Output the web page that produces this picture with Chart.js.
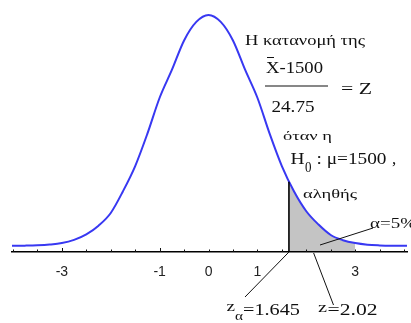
<!DOCTYPE html>
<html><head><meta charset="utf-8">
<style>html,body{margin:0;padding:0;background:#fff;overflow:hidden}canvas{display:block}</style>
<script src="https://cdn.jsdelivr.net/npm/chart.js"></script>
</head><body>
<canvas id="c" width="411" height="323"></canvas>
<script>
// z values along the density curve and the curve heights
const curveX = [-4.02, -3.75, -3.5, -3.25, -3.0, -2.75, -2.5, -2.25, -2.0, -1.75, -1.5, -1.25, -1.0, -0.75, -0.5, -0.25, 0,
                0.25, 0.5, 0.75, 1.0, 1.25, 1.5, 1.75, 2.0, 2.25, 2.5, 2.75, 3.0, 3.25, 3.5, 3.75, 4.06];
const curveY = [0.0003, 0.0006, 0.0012, 0.0025, 0.005, 0.0105, 0.020, 0.035, 0.057, 0.0945, 0.138, 0.194, 0.256, 0.304, 0.355, 0.387, 0.399,
                0.387, 0.355, 0.304, 0.256, 0.194, 0.138, 0.094, 0.060, 0.037, 0.019, 0.010, 0.005, 0.0022, 0.0010, 0.0004, 0.0002];
// shaded rejection region (alpha = 5%)
const shadeX = [1.645, 1.75, 2.0, 2.25, 2.5, 2.75, 3.0];
const shadeY = [0.111, 0.094, 0.060, 0.037, 0.019, 0.010, 0.005];
// axis ticks
const tickValues = [-4, -3.5, -3, -2.5, -2, -1.5, -1, -0.5, 0, 0.5, 1, 1.5, 2, 2.5, 3, 3.5, 4];
const labeledTicks = [-3, -1, 0, 1, 3];
const criticalZ = 1.645;
const observedZMark = 2.15;

const SERIF = '"Liberation Serif", "DejaVu Serif", serif';

const texts = [
  {t: 'Η κατανομή της', x: 245, y: 45, size: 14, w: 120},
  {t: 'X-1500', x: 266, y: 73, size: 17, w: 57},
  {t: '= Z', x: 341, y: 94, size: 17, w: 31},
  {t: '24.75', x: 271.5, y: 112, size: 17, w: 43},
  {t: 'όταν η', x: 283, y: 140, size: 13, w: 49},
  {t: 'H', x: 290.5, y: 163.5, size: 17, w: 14},
  {t: '0', x: 305, y: 171.5, size: 14, w: 6.5},
  {t: ': μ=1500', x: 316.5, y: 163.5, size: 17, w: 70},
  {t: ',', x: 392, y: 164, size: 17},
  {t: 'αληθής', x: 303, y: 198, size: 13, w: 54},
  {t: 'α=5%', x: 370, y: 228, size: 14, w: 46},
  {t: 'z', x: 226.5, y: 311, size: 15, w: 8.5},
  {t: 'α', x: 235, y: 320, size: 13, w: 8},
  {t: '=1.645', x: 243, y: 315, size: 17, w: 57},
  {t: 'z', x: 318, y: 312, size: 15, w: 9},
  {t: '=2.02', x: 327.5, y: 315, size: 17, w: 50}
];

const overlay = {
  id: 'overlay',
  afterDraw(chart) {
    const ctx = chart.ctx, xs = chart.scales.x, ys = chart.scales.y;
    const axisY = chart.chartArea.bottom;
    ctx.save();
    ctx.strokeStyle = '#111';
    ctx.lineWidth = 1;
    // small ticks above the axis
    tickValues.forEach(v => {
      const px = Math.round(xs.getPixelForValue(v)) + 0.5;
      const len = (v === -3 || v === -1) ? 4 : 2.5;
      ctx.beginPath(); ctx.moveTo(px, axisY); ctx.lineTo(px, axisY - len); ctx.stroke();
    });
    // vertical boundary of the critical region
    const cx = xs.getPixelForValue(criticalZ);
    ctx.lineWidth = 1.6;
    ctx.strokeStyle = '#000';
    ctx.beginPath(); ctx.moveTo(cx, axisY); ctx.lineTo(cx, ys.getPixelForValue(shadeY[0])); ctx.stroke();
    // pointer lines
    ctx.lineWidth = 1;
    ctx.strokeStyle = '#111';
    const seg = (x1, y1, x2, y2) => { ctx.beginPath(); ctx.moveTo(x1, y1); ctx.lineTo(x2, y2); ctx.stroke(); };
    seg(cx, axisY, 245, 297);
    seg(xs.getPixelForValue(observedZMark), axisY + 1, 333.5, 305);
    seg(320, 245, 373, 228);
    // fraction line and overline
    ctx.lineWidth = 1.2;
    seg(265, 86, 328, 86);
    ctx.lineWidth = 1;
    seg(267, 57.5, 274, 57.5);
    // texts
    ctx.fillStyle = '#111';
    ctx.textBaseline = 'alphabetic';
    ctx.textAlign = 'left';
    texts.forEach(o => {
      ctx.font = o.size + 'px ' + SERIF;
      ctx.save();
      ctx.translate(o.x, o.y);
      if (o.w) { const m = ctx.measureText(o.t).width; ctx.scale(o.w / m, 1); }
      ctx.fillText(o.t, 0, 0);
      ctx.restore();
    });
    ctx.restore();
  }
};

new Chart(document.getElementById('c'), {
  type: 'line',
  data: {
    datasets: [
      {
        data: curveX.map((x, i) => ({x, y: curveY[i]})),
        borderColor: '#3838f2', borderWidth: 2, pointRadius: 0, fill: false,
        cubicInterpolationMode: 'monotone', order: 0
      },
      {
        data: shadeX.map((x, i) => ({x, y: shadeY[i]})),
        borderWidth: 0, borderColor: 'rgba(0,0,0,0)', backgroundColor: '#c4c4c4',
        pointRadius: 0, fill: 'start', cubicInterpolationMode: 'monotone', order: 1
      }
    ]
  },
  options: {
    responsive: false, animation: false, devicePixelRatio: 1,
    layout: {padding: {top: 5, left: 12, right: 4, bottom: 0}},
    plugins: {legend: {display: false}, tooltip: {enabled: false}},
    scales: {
      x: {
        type: 'linear', min: -4.02, max: 4.06,
        afterBuildTicks: s => { s.ticks = tickValues.map(v => ({value: v})); },
        afterFit: s => { s.height = 71; s.paddingLeft = 0; s.paddingRight = 0; },
        ticks: {
          autoSkip: false, maxRotation: 0, padding: 12, color: '#222',
          font: {family: '"Liberation Sans", Arial, sans-serif', size: 14},
          callback: v => labeledTicks.includes(v) ? String(v) : ''
        },
        grid: {display: false, drawTicks: false},
        border: {display: true, color: '#000', width: 1.5, z: 1}
      },
      y: {display: false, min: -0.0104, max: 0.4162}
    }
  },
  plugins: [overlay]
});
</script>
</body></html>
